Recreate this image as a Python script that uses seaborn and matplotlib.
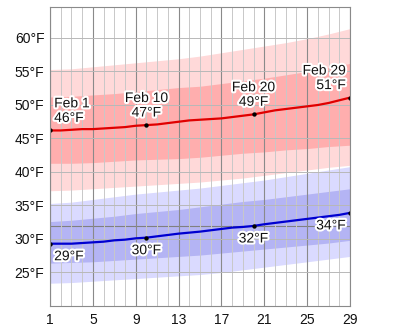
import matplotlib
matplotlib.use("Agg")
import matplotlib.pyplot as plt
import matplotlib.patheffects as pe
import seaborn as sns
import pandas as pd

# ---- data ----
days = list(range(1, 30))
high = [46.2, 46.2, 46.3, 46.4, 46.4, 46.5, 46.6, 46.7, 46.9, 47.0,
        47.1, 47.3, 47.5, 47.7, 47.8, 47.9, 48.0, 48.2, 48.4, 48.6,
        48.9, 49.2, 49.4, 49.6, 49.8, 50.0, 50.3, 50.7, 51.1]
low = [29.3, 29.3, 29.3, 29.4, 29.5, 29.6, 29.8, 29.9, 30.1, 30.2,
       30.4, 30.6, 30.8, 30.95, 31.1, 31.3, 31.5, 31.7, 31.8, 31.95,
       32.2, 32.4, 32.6, 32.8, 33.0, 33.2, 33.4, 33.6, 33.9]

band_days = [1, 3, 5, 7, 9, 11, 13, 15, 17, 19, 21, 23, 25, 27, 29]
high_p90 = [55.3, 55.4, 55.7, 56.0, 56.3, 56.6, 56.9, 57.3, 57.8, 58.3, 58.8, 59.3, 59.9, 60.6, 61.4]
high_p75 = [51.2, 51.3, 51.5, 51.7, 52.0, 52.3, 52.6, 52.8, 53.2, 53.6, 54.0, 54.5, 55.0, 55.6, 56.2]
high_p25 = [41.3, 41.3, 41.4, 41.6, 41.8, 41.9, 42.0, 42.2, 42.5, 42.8, 43.0, 43.3, 43.5, 43.8, 44.0]
high_p10 = [37.2, 37.3, 37.5, 37.7, 37.9, 38.1, 38.3, 38.5, 38.8, 39.1, 39.5, 39.9, 40.3, 40.7, 41.0]
low_p90 = [35.3, 35.5, 35.9, 36.3, 36.7, 37.0, 37.3, 37.6, 38.0, 38.4, 38.8, 39.3, 39.8, 40.3, 40.8]
low_p75 = [32.6, 32.8, 33.1, 33.4, 33.8, 34.1, 34.4, 34.8, 35.2, 35.6, 35.9, 36.3, 36.7, 37.1, 37.5]
low_p25 = [26.4, 26.5, 26.6, 26.8, 27.0, 27.2, 27.4, 27.6, 27.9, 28.2, 28.5, 28.8, 29.1, 29.4, 29.8]
low_p10 = [23.4, 23.5, 23.7, 23.9, 24.1, 24.3, 24.5, 24.7, 25.0, 25.4, 25.8, 26.2, 26.6, 27.0, 27.4]

label_days = [1, 10, 20, 29]
label_dates = ["Feb 1", "Feb 10", "Feb 20", "Feb 29"]
x_ticks = [1, 5, 9, 13, 17, 21, 25, 29]
y_ticks = [25, 30, 35, 40, 45, 50, 55, 60]

# ---- style ----
sns.set_theme(style="white")
plt.rcParams["font.family"] = ["Liberation Sans", "DejaVu Sans"]

fig = plt.figure(figsize=(4, 3.29), dpi=100)
ax = fig.add_axes([0.125, 23 / 329, 0.75, 299.5 / 329])

# bands
ax.fill_between(band_days, high_p10, high_p90, color="#ffd9d9", lw=0, zorder=1)
ax.fill_between(band_days, high_p25, high_p75, color="#ffaeae", lw=0, zorder=1.1)
ax.fill_between(band_days, low_p10, low_p90, color="#dadaff", lw=0, zorder=1)
ax.fill_between(band_days, low_p25, low_p75, color="#b4b4f4", lw=0, zorder=1.1)

# grid
ax.set_xticks(x_ticks)
ax.set_xticks(days, minor=True)
ax.set_yticks(y_ticks)
ax.set_yticklabels([f"{v}°F" for v in y_ticks])
ax.grid(which="major", axis="x", color="#8a8a8a", lw=0.8, zorder=2)
ax.grid(which="minor", axis="x", color="#c8c8c8", lw=0.7, zorder=2)
ax.grid(which="major", axis="y", color="#b8b8b8", lw=0.7, zorder=2)
ax.axhline(32, color="#808080", lw=0.8, zorder=2)
ax.set_axisbelow(False)

# lines
df = pd.DataFrame({"day": days, "high": high, "low": low})
sns.lineplot(data=df, x="day", y="high", color="#e00000", lw=1.6, ax=ax, zorder=4)
sns.lineplot(data=df, x="day", y="low", color="#0000d0", lw=1.6, ax=ax, zorder=4)

pts = df[df["day"].isin(label_days)]
sns.scatterplot(x=pts["day"], y=pts["high"], color="black", s=10, linewidth=0, ax=ax, zorder=5)
sns.scatterplot(x=pts["day"], y=pts["low"], color="black", s=10, linewidth=0, ax=ax, zorder=5)

ax.set_xlim(1, 29)
ax.set_ylim(20, 64.7)
ax.set_xlabel("")
ax.set_ylabel("")

for s in ax.spines.values():
    s.set_color("#8a8a8a")
    s.set_linewidth(0.8)
    s.set_zorder(6)

ax.tick_params(axis="both", which="both", length=0, labelsize=10, colors="#111111")
ax.tick_params(axis="y", pad=4)
ax.tick_params(axis="x", pad=5)

halo = [pe.withStroke(linewidth=3, foreground="white")]
aligns = ["left", "center", "center", "right"]
xoffs = [3, 0, 0, -3]
for d, lab, ha, xo in zip(label_days, label_dates, aligns, xoffs):
    hv = high[days.index(d)]
    lv = low[days.index(d)]
    ax.annotate(f"{lab}\n{round(hv)}°F", xy=(d, hv), xytext=(xo, 4),
                textcoords="offset points", ha=ha, va="bottom", fontsize=10,
                linespacing=1.05, color="#111111", path_effects=halo, zorder=7,
                annotation_clip=False)
    ax.annotate(f"{round(lv)}°F", xy=(d, lv), xytext=(xo, -4),
                textcoords="offset points", ha=ha, va="top", fontsize=10,
                color="#111111", path_effects=halo, zorder=7,
                annotation_clip=False)

fig.savefig("out.png", dpi=100)
